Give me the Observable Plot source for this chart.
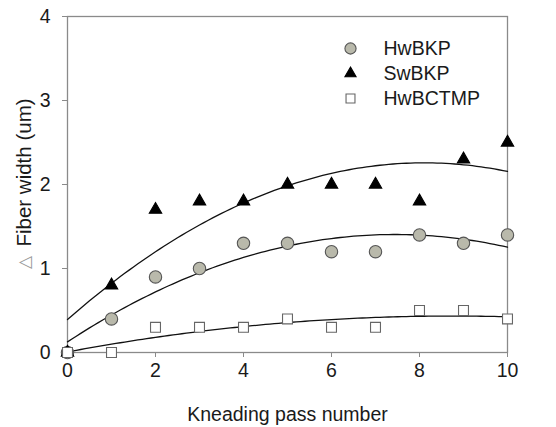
<!DOCTYPE html>
<html>
<head>
<meta charset="utf-8">
<script src="https://cdn.jsdelivr.net/npm/d3@7"></script>
<script src="https://cdn.jsdelivr.net/npm/@observablehq/plot@0.6"></script>
<style>
  html, body { margin: 0; padding: 0; background: #fff; }
  #chart { width: 556px; height: 427px; }
</style>
</head>
<body>
<div id="chart"></div>
<script>
// ---- data ----
const passes = [0, 1, 2, 3, 4, 5, 6, 7, 8, 9, 10];
const seriesNames = ["HwBKP", "SwBKP", "HwBCTMP"];
const hwbkp   = [0, 0.4, 0.9, 1.0, 1.3, 1.3, 1.2, 1.2, 1.4, 1.3, 1.4];
const swbkp   = [0, 0.8, 1.7, 1.8, 1.8, 2.0, 2.0, 2.0, 1.8, 2.3, 2.5];
const hwbctmp = [0, 0.0, 0.3, 0.3, 0.3, 0.4, 0.3, 0.3, 0.5, 0.5, 0.4];
const xTicks = [0, 2, 4, 6, 8, 10];
const yTicks = [0, 1, 2, 3, 4];
const xLabel = "Kneading pass number";
const yLabelSymbol = "△";
const yLabelText = "Fiber width (um)";

const valuesBySeries = { HwBKP: hwbkp, SwBKP: swbkp, HwBCTMP: hwbctmp };

// points table
const points = seriesNames.flatMap(s => passes.map((x, i) => ({ series: s, x, y: valuesBySeries[s][i] })));

// least-squares quadratic fit (trend lines, as in the original figure)
function quadFit(xs, ys) {
  const n = xs.length;
  let s1 = 0, s2 = 0, s3 = 0, s4 = 0, t0 = 0, t1 = 0, t2 = 0;
  for (let i = 0; i < n; i++) {
    const x = xs[i], y = ys[i];
    s1 += x; s2 += x * x; s3 += x ** 3; s4 += x ** 4;
    t0 += y; t1 += x * y; t2 += x * x * y;
  }
  const A = [[n, s1, s2, t0], [s1, s2, s3, t1], [s2, s3, s4, t2]];
  for (let c = 0; c < 3; c++) {
    for (let r = c + 1; r < 3; r++) {
      const f = A[r][c] / A[c][c];
      for (let k = c; k < 4; k++) A[r][k] -= f * A[c][k];
    }
  }
  const co = [0, 0, 0];
  for (let r = 2; r >= 0; r--) {
    let s = A[r][3];
    for (let k = r + 1; k < 3; k++) s -= A[r][k] * co[k];
    co[r] = s / A[r][r];
  }
  return x => co[0] + co[1] * x + co[2] * x * x;
}
const fitX = d3.range(0, 10.0001, 0.1);
const curves = seriesNames.flatMap(s => {
  const f = quadFit(passes, valuesBySeries[s]);
  return fitX.map(x => ({ series: s, x, y: f(x) }));
});

const style = {
  HwBKP:   { symbol: "circle",   fill: "#b9b9ab", stroke: "#555", r: 6.2 },
  SwBKP:   { symbol: "triangle", fill: "#000",    stroke: "#000", r: 4.6 },
  HwBCTMP: { symbol: "square",   fill: "#fff",    stroke: "#666", r: 5.6 }
};

const font = "'Liberation Sans', Arial, Helvetica, sans-serif";
const fs = 19.5;

const marks = [
  Plot.frame({ stroke: "#8a8a8a", strokeWidth: 1.3 }),
  Plot.axisX({
    ticks: xTicks, tickFormat: d3.format("d"), tickSize: 5, tickPadding: 6,
    stroke: "#8a8a8a", color: "#1a1a1a", fontSize: fs, label: null
  }),
  Plot.axisY({
    ticks: yTicks, tickFormat: d3.format("d"), tickSize: 5, tickPadding: 12,
    stroke: "#8a8a8a", color: "#1a1a1a", fontSize: fs, label: null
  }),
  Plot.line(curves, { x: "x", y: "y", z: "series", stroke: "#111", strokeWidth: 1.3, curve: "linear" })
];

for (const s of seriesNames) {
  const st = style[s];
  marks.push(Plot.dot(points.filter(d => d.series === s), {
    x: "x", y: "y", symbol: st.symbol, r: st.r, fill: st.fill, stroke: st.stroke, strokeWidth: 1.1
  }));
}

// legend inside the frame
seriesNames.forEach((s, i) => {
  const st = style[s];
  marks.push(Plot.dot([s], {
    frameAnchor: "top-left", dx: 283, dy: 32 + 25 * i,
    symbol: st.symbol, r: st.r * 0.9, fill: st.fill, stroke: st.stroke, strokeWidth: 1.1
  }));
  marks.push(Plot.text([s], {
    text: d => d, frameAnchor: "top-left", dx: 316, dy: 32 + 25 * i,
    textAnchor: "start", lineAnchor: "middle", fontSize: fs, fill: "#1a1a1a"
  }));
});

// axis titles
marks.push(Plot.text([xLabel], {
  text: d => d, frameAnchor: "bottom", dy: 62, textAnchor: "middle", lineAnchor: "middle",
  fontSize: fs, fill: "#1a1a1a"
}));
marks.push(Plot.text([yLabelText], {
  text: d => d, frameAnchor: "left", dx: -43, dy: -12, rotate: -90, textAnchor: "middle", lineAnchor: "middle",
  fontSize: 20.5, fill: "#1a1a1a"
}));
marks.push(Plot.text([yLabelSymbol], {
  text: d => d, frameAnchor: "left", dx: -43, dy: 78, rotate: -90, textAnchor: "middle", lineAnchor: "middle",
  fontSize: 17, fill: "#9a9a9a", fontFamily: "'DejaVu Sans', sans-serif"
}));

const chart = Plot.plot({
  width: 556,
  height: 427,
  marginLeft: 67,
  marginRight: 49,
  marginTop: 16,
  marginBottom: 75,
  x: { domain: [0, 10] },
  y: { domain: [0, 4] },
  style: { fontFamily: font, background: "#fff", overflow: "visible" },
  marks
});

document.getElementById("chart").appendChild(chart);
</script>
</body>
</html>
